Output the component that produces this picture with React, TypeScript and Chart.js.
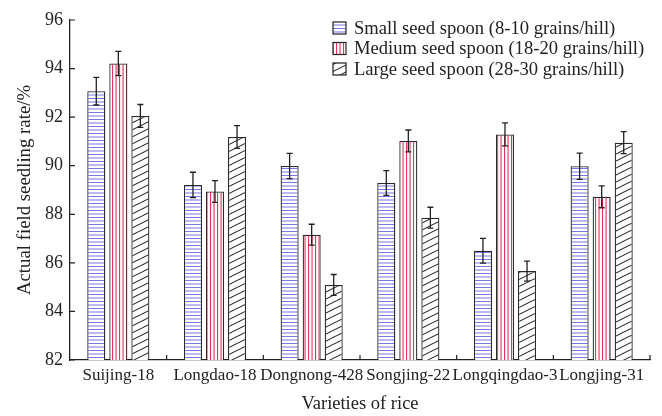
import React, { useEffect, useRef } from "react";
import { Chart, registerables } from "chart.js";

Chart.register(...registerables);

const categories = ["Suijing-18", "Longdao-18", "Dongnong-428", "Songjing-22", "Longqingdao-3", "Longjing-31"];
const seriesLabels = [
  "Small seed spoon (8-10 grains/hill)",
  "Medium seed spoon (18-20 grains/hill)",
  "Large seed spoon (28-30 grains/hill)",
];
const smallValues = [93.07, 89.21, 89.99, 89.29, 86.5, 89.98];
const mediumValues = [94.21, 88.94, 87.16, 91.02, 91.29, 88.72];
const largeValues = [92.05, 91.18, 85.09, 87.86, 85.66, 90.95];
const smallErrors = [0.57, 0.52, 0.52, 0.51, 0.51, 0.54];
const mediumErrors = [0.5, 0.45, 0.43, 0.45, 0.47, 0.45];
const largeErrors = [0.47, 0.47, 0.43, 0.43, 0.41, 0.45];
const yTicks = [82, 84, 86, 88, 90, 92, 94, 96];
const xTitle = "Varieties of rice";
const yTitle = "Actual field seedling rate/%";

const FONT = "'Liberation Serif', 'Times New Roman', serif";
const INK = "#222";

function makeHPattern(ctx: CanvasRenderingContext2D) {
  const c = document.createElement("canvas");
  c.width = 8;
  c.height = 7;
  const g = c.getContext("2d")!;
  g.fillStyle = "#fff";
  g.fillRect(0, 0, 8, 7);
  g.fillStyle = "rgba(95,95,230,0.85)";
  g.fillRect(0, 0, 8, 1);
  g.fillRect(0, 3.5, 8, 1);
  return ctx.createPattern(c, "repeat")!;
}

function makeVPattern(ctx: CanvasRenderingContext2D) {
  const c = document.createElement("canvas");
  c.width = 7;
  c.height = 8;
  const g = c.getContext("2d")!;
  g.fillStyle = "#fff";
  g.fillRect(0, 0, 7, 8);
  g.fillStyle = "rgba(228,35,80,0.92)";
  g.fillRect(0, 0, 1.1, 8);
  g.fillRect(3.5, 0, 1.1, 8);
  return ctx.createPattern(c, "repeat")!;
}

function makeDPattern(ctx: CanvasRenderingContext2D) {
  const w = 14;
  const h = 7;
  const c = document.createElement("canvas");
  c.width = w;
  c.height = h;
  const g = c.getContext("2d")!;
  g.fillStyle = "#fff";
  g.fillRect(0, 0, w, h);
  g.strokeStyle = "#2a2a2a";
  g.lineWidth = 1.1;
  for (const off of [-h, 0, h]) {
    g.beginPath();
    g.moveTo(-w, 2 * h + off);
    g.lineTo(2 * w, off - h);
    g.stroke();
  }
  return ctx.createPattern(c, "repeat")!;
}

const errorBarPlugin = {
  id: "errorBars",
  afterDatasetsDraw(chart: any) {
    const { ctx } = chart;
    const y = chart.scales.y;
    const errs = [smallErrors, mediumErrors, largeErrors];
    ctx.save();
    ctx.strokeStyle = INK;
    ctx.lineWidth = 1.3;
    chart.data.datasets.forEach((ds: any, di: number) => {
      const meta = chart.getDatasetMeta(di);
      meta.data.forEach((bar: any, i: number) => {
        const v = ds.data[i];
        const e = errs[di][i];
        const yt = y.getPixelForValue(v + e);
        const yb = y.getPixelForValue(v - e);
        const x = bar.x;
        ctx.beginPath();
        ctx.moveTo(x, yt);
        ctx.lineTo(x, yb);
        ctx.moveTo(x - 3, yt);
        ctx.lineTo(x + 3, yt);
        ctx.moveTo(x - 3, yb);
        ctx.lineTo(x + 3, yb);
        ctx.stroke();
      });
    });
    ctx.restore();
  },
};

const innerTicksPlugin = {
  id: "innerTicks",
  afterDraw(chart: any) {
    const { ctx, chartArea } = chart;
    const xs = chart.scales.x;
    const ys = chart.scales.y;
    ctx.save();
    ctx.strokeStyle = INK;
    ctx.lineWidth = 1.2;
    ctx.beginPath();
    ys.ticks.forEach((t: any) => {
      const py = ys.getPixelForValue(t.value);
      ctx.moveTo(chartArea.left, py);
      ctx.lineTo(chartArea.left + 5, py);
    });
    for (let i = 0; i < categories.length - 1; i++) {
      const px = (xs.getPixelForValue(i) + xs.getPixelForValue(i + 1)) / 2;
      ctx.moveTo(px, chartArea.bottom);
      ctx.lineTo(px, chartArea.bottom - 5);
    }
    ctx.moveTo(chartArea.right, chartArea.bottom);
    ctx.lineTo(chartArea.right, chartArea.bottom - 5);
    ctx.stroke();
    ctx.restore();
  },
};

const legendPlugin = {
  id: "innerLegend",
  afterDraw(chart: any) {
    const { ctx } = chart;
    const rows = [28, 48.5, 69];
    ctx.save();
    chart.data.datasets.forEach((ds: any, i: number) => {
      const cy = rows[i];
      ctx.fillStyle = ds.backgroundColor;
      ctx.fillRect(333, cy - 6, 13, 12);
      ctx.strokeStyle = INK;
      ctx.lineWidth = 1.2;
      ctx.strokeRect(333, cy - 6, 13, 12);
      ctx.fillStyle = INK;
      ctx.font = `18.6px ${FONT}`;
      ctx.textBaseline = "middle";
      ctx.textAlign = "left";
      ctx.fillText(ds.label, 354, cy + 1);
    });
    ctx.restore();
  },
};

export default function App() {
  const ref = useRef<HTMLCanvasElement | null>(null);

  useEffect(() => {
    const canvas = ref.current!;
    const ctx = canvas.getContext("2d")!;
    const hp = makeHPattern(ctx);
    const vp = makeVPattern(ctx);
    const dp = makeDPattern(ctx);
    const mk = (label: string, data: number[], bg: any) => ({
      label,
      data,
      backgroundColor: bg,
      borderColor: "#2a2a2a",
      borderWidth: 1.3,
      borderSkipped: false,
      categoryPercentage: 0.684,
      barPercentage: 0.82,
    });
    const chart = new Chart(canvas, {
      type: "bar",
      data: {
        labels: categories,
        datasets: [
          mk(seriesLabels[0], smallValues, hp),
          mk(seriesLabels[1], mediumValues, vp),
          mk(seriesLabels[2], largeValues, dp),
        ],
      },
      options: {
        animation: false,
        responsive: false,
        layout: { padding: { top: 20, right: 12, left: 0, bottom: 0 } },
        plugins: {
          legend: { display: false },
          tooltip: { enabled: false },
        },
        scales: {
          x: {
            offset: true,
            grid: { display: false, drawTicks: false },
            border: { display: true, color: INK, width: 1.3 },
            ticks: { color: INK, font: { family: FONT, size: 17 }, padding: 5, maxRotation: 0, autoSkip: false },
            title: { display: true, text: xTitle, color: INK, font: { family: FONT, size: 18.5 }, padding: { top: 0, bottom: 1 } },
            afterFit: (s: any) => {
              s.height = 56;
            },
          },
          y: {
            min: 82,
            max: 96,
            grid: { display: false, drawTicks: false },
            border: { display: true, color: INK, width: 1.3 },
            ticks: { color: INK, font: { family: FONT, size: 18 }, padding: 7 },
            afterBuildTicks: (s: any) => {
              s.ticks = yTicks.map((v) => ({ value: v }));
            },
            title: { display: true, text: yTitle, color: INK, font: { family: FONT, size: 18.8 }, padding: { top: 14, bottom: 0 } },
            afterFit: (s: any) => {
              s.width = 70;
            },
          },
        },
      },
      plugins: [errorBarPlugin, innerTicksPlugin, legendPlugin],
    } as any);
    return () => chart.destroy();
  }, []);

  return (
    <div style={{ position: "absolute", left: 0, top: 0, width: 662, height: 416, background: "#fff" }}>
      <canvas ref={ref} width={662} height={416} />
    </div>
  );
}
